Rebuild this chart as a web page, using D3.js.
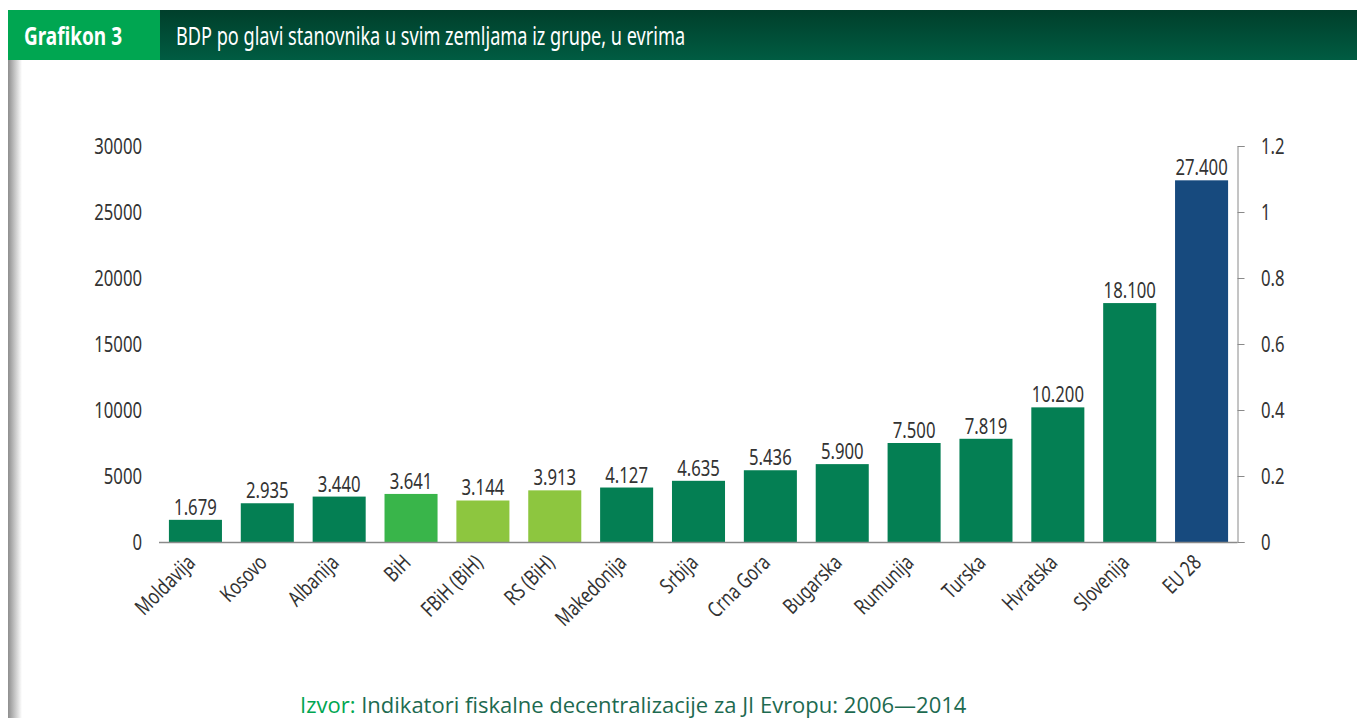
<!DOCTYPE html>
<html>
<head>
<meta charset="utf-8">
<script src="https://cdn.jsdelivr.net/npm/d3@7"></script>
<style>
  body { margin: 0; background: #fff; }
  svg { display: block; }
</style>
</head>
<body>
<div id="chart"></div>
<script>
// data
const countries = ["Moldavija", "Kosovo", "Albanija", "BiH", "FBiH (BiH)", "RS (BiH)", "Makedonija",
    "Srbija", "Crna Gora", "Bugarska", "Rumunija", "Turska", "Hvratska", "Slovenija", "EU 28"];
const gdpValues = [1679, 2935, 3440, 3641, 3144, 3913, 4127, 4635, 5436, 5900, 7500, 7819, 10200, 18100, 27400];
const valueLabels = ["1.679", "2.935", "3.440", "3.641", "3.144", "3.913", "4.127", "4.635", "5.436",
    "5.900", "7.500", "7.819", "10.200", "18.100", "27.400"];
const barGroups = ["base", "base", "base", "bih", "entity", "entity", "base", "base", "base",
    "base", "base", "base", "base", "base", "eu"];
const leftTicks = [0, 5000, 10000, 15000, 20000, 25000, 30000];
const rightTicks = [0, 0.2, 0.4, 0.6, 0.8, 1, 1.2];

const groupColor = {base: "#047f53", bih: "#39b54a", entity: "#8dc63f", eu: "#174a7e"};
// no condensed face installed, so squeeze a normal sans horizontally
const font = '"Noto Sans", "Open Sans", sans-serif';
const sx = 0.76;

const W = 1357, H = 718;
const svg = d3.select("#chart").append("svg")
    .attr("width", W)
    .attr("height", H);

// header band
const defs = svg.append("defs");
const grad = defs.append("linearGradient").attr("id", "hdr").attr("x1", 0).attr("y1", 0).attr("x2", 0).attr("y2", 1);
grad.append("stop").attr("offset", "0%").attr("stop-color", "#003f2b");
grad.append("stop").attr("offset", "100%").attr("stop-color", "#005c42");
const shadow = defs.append("linearGradient").attr("id", "shd").attr("x1", 0).attr("y1", 0).attr("x2", 1).attr("y2", 0);
shadow.append("stop").attr("offset", "0%").attr("stop-color", "#8e8e8e");
shadow.append("stop").attr("offset", "100%").attr("stop-color", "#ffffff");

svg.append("rect").attr("x", 8).attr("y", 10).attr("width", W - 8).attr("height", 50).attr("fill", "url(#hdr)");
svg.append("rect").attr("x", 8).attr("y", 10).attr("width", 152).attr("height", 50).attr("fill", "#00a651");
svg.append("rect").attr("x", 8).attr("y", 60).attr("width", 14).attr("height", H - 60).attr("fill", "url(#shd)");

svg.append("text")
    .attr("transform", `translate(24,45) scale(${sx},1)`)
    .attr("fill", "#fff")
    .attr("font-family", font)
    .attr("font-weight", "bold")
    .attr("font-size", 25)
    .text("Grafikon 3");
svg.append("text")
    .attr("transform", `translate(176,45) scale(0.74,1)`)
    .attr("fill", "#fff")
    .attr("font-family", font)
    .attr("font-size", 24.5)
    .text("BDP po glavi stanovnika u svim zemljama iz grupe, u evrima");

// chart area
const x = d3.scaleBand()
    .domain(countries)
    .range([159.5, 1237.5])
    .paddingInner(0.262)
    .paddingOuter(0.131);

const y = d3.scaleLinear().domain([0, 30000]).range([542, 146]);
const y2 = d3.scaleLinear().domain([0, 1.2]).range([542, 146]);

// left axis (labels only)
const leftAxis = svg.append("g")
    .attr("transform", "translate(150,0)")
    .call(d3.axisLeft(y).tickValues(leftTicks).tickSize(0).tickPadding(8 / sx).tickFormat(d3.format("d")));
leftAxis.select(".domain").remove();
leftAxis.selectAll("text")
    .attr("transform", `scale(${sx},1)`)
    .attr("font-size", 22).attr("fill", "#333").attr("font-family", font);

// right axis
const rightAxis = svg.append("g")
    .attr("transform", "translate(1237.5,0)")
    .call(d3.axisRight(y2).tickValues(rightTicks).tickSize(7).tickSizeOuter(7).tickPadding(23.5 / sx - 7)
        .tickFormat(d => d3.format("~g")(d)));
rightAxis.select(".domain").attr("stroke", "#8a8a8a");
rightAxis.selectAll(".tick line").attr("stroke", "#8a8a8a");
rightAxis.selectAll("text")
    .attr("transform", `scale(${sx},1)`)
    .attr("font-size", 22).attr("fill", "#333").attr("font-family", font);

// bars
svg.append("g").selectAll("rect")
    .data(countries)
    .join("rect")
    .attr("x", d => x(d))
    .attr("y", (d, i) => y(gdpValues[i]))
    .attr("width", x.bandwidth())
    .attr("height", (d, i) => y(0) - y(gdpValues[i]))
    .attr("fill", (d, i) => groupColor[barGroups[i]]);

// baseline
svg.append("line")
    .attr("x1", 159).attr("x2", 1237.5)
    .attr("y1", y(0) + 0.5).attr("y2", y(0) + 0.5)
    .attr("stroke", "#8a8a8a").attr("stroke-width", 1.5);

// value labels
svg.append("g").selectAll("text")
    .data(countries)
    .join("text")
    .attr("transform", (d, i) => `translate(${x(d) + x.bandwidth() / 2},${y(gdpValues[i]) - 5}) scale(${sx},1)`)
    .attr("text-anchor", "middle")
    .attr("font-family", font)
    .attr("font-size", 22)
    .attr("fill", "#333")
    .text((d, i) => valueLabels[i]);

// category labels
svg.append("g").selectAll("text")
    .data(countries)
    .join("text")
    .attr("transform", d => `translate(${x(d) + x.bandwidth() / 2 + 1},${y(0) + 22}) rotate(-45) scale(${sx},1)`)
    .attr("text-anchor", "end")
    .attr("font-family", font)
    .attr("font-size", 21.5)
    .attr("fill", "#333")
    .text(d => d);

// source
const src = svg.append("text")
    .attr("x", 300).attr("y", 713)
    .attr("font-family", '"Open Sans", "Noto Sans", sans-serif')
    .attr("font-size", 22);
src.append("tspan").attr("fill", "#00a651").text("Izvor: ");
src.append("tspan").attr("fill", "#1d6a50").text("Indikatori fiskalne decentralizacije za JI Evropu: 2006\u20142014");
</script>
</body>
</html>
